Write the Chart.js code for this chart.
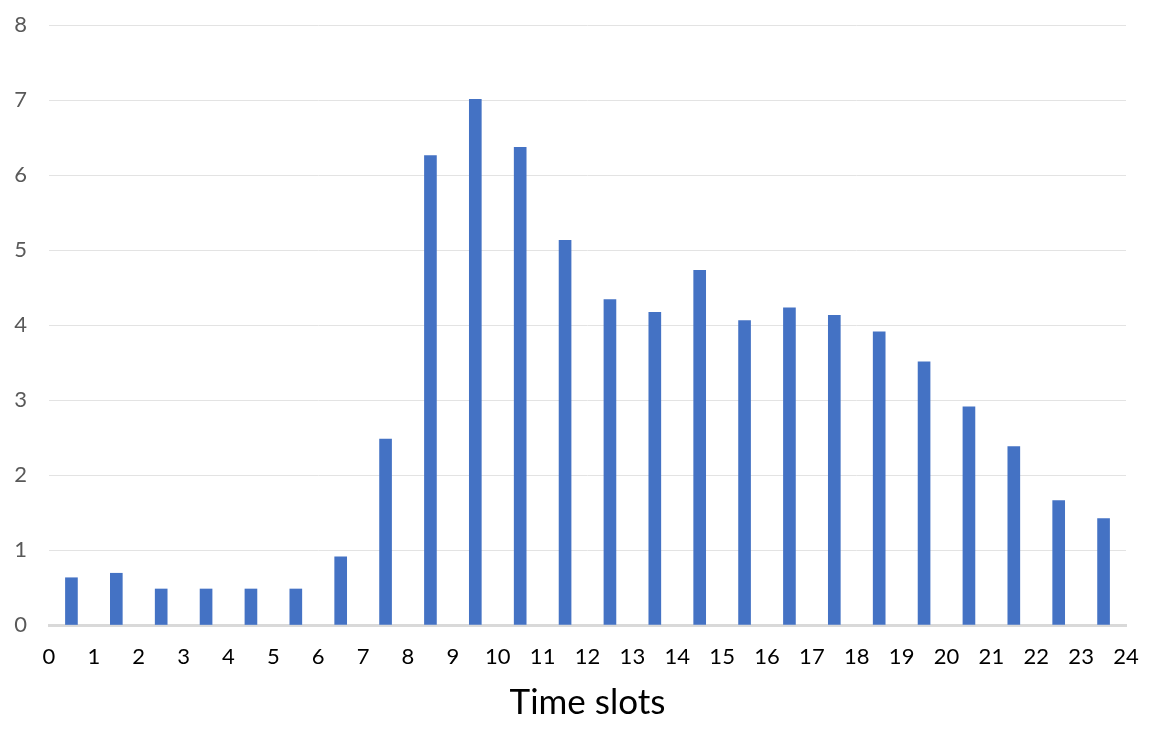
<!DOCTYPE html>
<html>
<head>
<meta charset="utf-8">
<script src="https://cdn.jsdelivr.net/npm/chart.js@4.4.1/dist/chart.umd.min.js"></script>
<style>
  html, body { margin: 0; padding: 0; background: #fff; }
  #wrap { width: 1161px; height: 749px; }
</style>
</head>
<body>
<div id="wrap"><canvas id="slotsChart"></canvas></div>
<script>
// hour slots: bar i sits between tick i and i+1
const slotStarts = [0, 1, 2, 3, 4, 5, 6, 7, 8, 9, 10, 11, 12, 13, 14, 15, 16, 17, 18, 19, 20, 21, 22, 23];
const slotValues = [0.63, 0.69, 0.48, 0.48, 0.48, 0.48, 0.91, 2.48, 6.26, 7.01, 6.37, 5.13,
                    4.34, 4.17, 4.73, 4.06, 4.23, 4.13, 3.91, 3.51, 2.91, 2.38, 1.66, 1.42];
const xTicks = [0, 24];
const yTicks = [0, 8];
const xTitle = 'Time slots';

const points = slotStarts.map((s, i) => ({ x: s + 0.5, y: slotValues[i] }));

document.addEventListener("DOMContentLoaded", function () {
  const el = document.getElementById('slotsChart');
  new Chart(el, {
    type: 'bar',
    data: {
      datasets: [{
        data: points,
        backgroundColor: '#4472C4',
        barThickness: 12
      }]
    },
    options: {
      responsive: true,
      maintainAspectRatio: false,
      animation: false,
      layout: { padding: { top: 25, right: 35, left: 0, bottom: 0 } },
      plugins: {
        legend: { display: false },
        tooltip: { enabled: false }
      },
      scales: {
        x: {
          type: 'linear',
          min: xTicks[0],
          max: xTicks[1],
          offset: false,
          grid: { display: false, offset: false },
          border: { display: true, color: '#d9d9d9', width: 3 },
          ticks: {
            stepSize: 1,
            color: '#000',
            padding: 11,
            maxRotation: 0,
            autoSkip: false,
            font: { family: 'Lato', size: 22 }
          },
          title: {
            display: true,
            text: xTitle,
            color: '#000',
            padding: { top: 8, bottom: 25 },
            font: { family: 'Lato', size: 35 }
          },
          afterFit: function (scale) { scale.height = 124; }
        },
        y: {
          min: yTicks[0],
          max: yTicks[1],
          grid: { color: '#e3e3e3', lineWidth: 1, drawTicks: false },
          border: { display: false },
          ticks: {
            stepSize: 1,
            color: '#595959',
            padding: 22,
            font: { family: 'Lato', size: 22 }
          },
          afterFit: function (scale) {
            scale.width = 49;
            scale.paddingTop = 0;
          }
        }
      }
    }
  });
});
</script>
</body>
</html>
